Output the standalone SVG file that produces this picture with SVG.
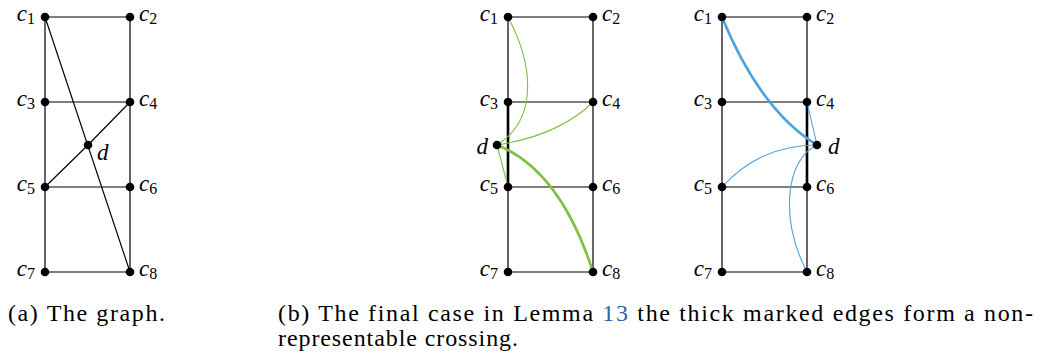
<svg xmlns="http://www.w3.org/2000/svg" width="1041" height="358" viewBox="0 0 1041 358">
<style>
.e{stroke:#000;stroke-width:1.2;fill:none}
.thick{stroke:#000;stroke-width:2.6;fill:none}
.g{stroke:#80c040;stroke-width:1.1;fill:none}
.gt{stroke:#80c040;stroke-width:2.6;fill:none}
.b{stroke:#4aa3df;stroke-width:1.1;fill:none}
.bt{stroke:#4aa3df;stroke-width:2.6;fill:none}
.n{fill:#000}
.lbl{font-size:23px;font-style:italic;fill:#000}
.sub{font-style:normal;font-size:16px}
.cap{font-size:24px;fill:#000}
</style>
<rect width="1041" height="358" fill="#fff"/>
<g id="connectors">
  <path class="e" d="M45,17H130M45,102H130M45,187H130M45,272H130M45,17V272M130,17V272"/>
  <path class="e" d="M45,17L130,272M130,102L88,145L45,187"/>
  <path class="e" d="M508,17H593M508,102H593M508,187H593M508,272H593M508,17V272M593,17V272"/>
  <path class="thick" d="M508,102V187"/>
  <path class="g" d="M508,17C532,62 540,118 497,145"/>
  <path class="g" d="M593,102Q560,135 497,145"/>
  <path class="g" d="M497,145L508,187"/>
  <path class="gt" d="M497,145Q560,170 593,272"/>
  <path class="e" d="M722,17H807M722,102H807M722,187H807M722,272H807M722,17V272M807,17V272"/>
  <path class="thick" d="M807,102V187"/>
  <path class="bt" d="M722,17Q760,110 817,145"/>
  <path class="b" d="M807,102L817,145"/>
  <path class="b" d="M722,187Q760,145 817,145"/>
  <path class="b" d="M807,272C780,220 785,160 817,145"/>
</g>
<g font-family="Liberation Serif, DejaVu Serif, serif">
<g id="a-c1"><circle class="n" cx="45" cy="17" r="4.3"/><text class="lbl" x="35" y="21" text-anchor="end">c<tspan class="sub" dy="3">1</tspan></text></g>
<g id="a-c2"><circle class="n" cx="130" cy="17" r="4.3"/><text class="lbl" x="139" y="21">c<tspan class="sub" dy="3">2</tspan></text></g>
<g id="a-c3"><circle class="n" cx="45" cy="102" r="4.3"/><text class="lbl" x="35" y="106" text-anchor="end">c<tspan class="sub" dy="3">3</tspan></text></g>
<g id="a-c4"><circle class="n" cx="130" cy="102" r="4.3"/><text class="lbl" x="139" y="106">c<tspan class="sub" dy="3">4</tspan></text></g>
<g id="a-c5"><circle class="n" cx="45" cy="187" r="4.3"/><text class="lbl" x="35" y="191" text-anchor="end">c<tspan class="sub" dy="3">5</tspan></text></g>
<g id="a-c6"><circle class="n" cx="130" cy="187" r="4.3"/><text class="lbl" x="139" y="191">c<tspan class="sub" dy="3">6</tspan></text></g>
<g id="a-c7"><circle class="n" cx="45" cy="272" r="4.3"/><text class="lbl" x="35" y="276" text-anchor="end">c<tspan class="sub" dy="3">7</tspan></text></g>
<g id="a-c8"><circle class="n" cx="130" cy="272" r="4.3"/><text class="lbl" x="139" y="276">c<tspan class="sub" dy="3">8</tspan></text></g>
<g id="a-d"><circle class="n" cx="88" cy="145" r="4.3"/><text class="lbl" x="97" y="160">d</text></g>
<g id="b-c1"><circle class="n" cx="508" cy="17" r="4.3"/><text class="lbl" x="498" y="21" text-anchor="end">c<tspan class="sub" dy="3">1</tspan></text></g>
<g id="b-c2"><circle class="n" cx="593" cy="17" r="4.3"/><text class="lbl" x="602" y="21">c<tspan class="sub" dy="3">2</tspan></text></g>
<g id="b-c3"><circle class="n" cx="508" cy="102" r="4.3"/><text class="lbl" x="498" y="106" text-anchor="end">c<tspan class="sub" dy="3">3</tspan></text></g>
<g id="b-c4"><circle class="n" cx="593" cy="102" r="4.3"/><text class="lbl" x="602" y="106">c<tspan class="sub" dy="3">4</tspan></text></g>
<g id="b-c5"><circle class="n" cx="508" cy="187" r="4.3"/><text class="lbl" x="498" y="191" text-anchor="end">c<tspan class="sub" dy="3">5</tspan></text></g>
<g id="b-c6"><circle class="n" cx="593" cy="187" r="4.3"/><text class="lbl" x="602" y="191">c<tspan class="sub" dy="3">6</tspan></text></g>
<g id="b-c7"><circle class="n" cx="508" cy="272" r="4.3"/><text class="lbl" x="498" y="276" text-anchor="end">c<tspan class="sub" dy="3">7</tspan></text></g>
<g id="b-c8"><circle class="n" cx="593" cy="272" r="4.3"/><text class="lbl" x="602" y="276">c<tspan class="sub" dy="3">8</tspan></text></g>
<g id="b-d"><circle class="n" cx="497" cy="145" r="4.3"/><text class="lbl" x="488" y="154" text-anchor="end">d</text></g>
<g id="c-c1"><circle class="n" cx="722" cy="17" r="4.3"/><text class="lbl" x="712" y="21" text-anchor="end">c<tspan class="sub" dy="3">1</tspan></text></g>
<g id="c-c2"><circle class="n" cx="807" cy="17" r="4.3"/><text class="lbl" x="816" y="21">c<tspan class="sub" dy="3">2</tspan></text></g>
<g id="c-c3"><circle class="n" cx="722" cy="102" r="4.3"/><text class="lbl" x="712" y="106" text-anchor="end">c<tspan class="sub" dy="3">3</tspan></text></g>
<g id="c-c4"><circle class="n" cx="807" cy="102" r="4.3"/><text class="lbl" x="816" y="106">c<tspan class="sub" dy="3">4</tspan></text></g>
<g id="c-c5"><circle class="n" cx="722" cy="187" r="4.3"/><text class="lbl" x="712" y="191" text-anchor="end">c<tspan class="sub" dy="3">5</tspan></text></g>
<g id="c-c6"><circle class="n" cx="807" cy="187" r="4.3"/><text class="lbl" x="816" y="191">c<tspan class="sub" dy="3">6</tspan></text></g>
<g id="c-c7"><circle class="n" cx="722" cy="272" r="4.3"/><text class="lbl" x="712" y="276" text-anchor="end">c<tspan class="sub" dy="3">7</tspan></text></g>
<g id="c-c8"><circle class="n" cx="807" cy="272" r="4.3"/><text class="lbl" x="816" y="276">c<tspan class="sub" dy="3">8</tspan></text></g>
<g id="c-d"><circle class="n" cx="817" cy="145" r="4.3"/><text class="lbl" x="828" y="154">d</text></g>
<g id="captions">
<text class="cap" x="8" y="321" textLength="157" lengthAdjust="spacing">(a) The graph.</text>
<text class="cap" x="278" y="321" textLength="755" lengthAdjust="spacing">(b) The final case in Lemma <tspan fill="#2f64a8">13</tspan> the thick marked edges form a non-</text>
<text class="cap" x="278" y="346" textLength="240" lengthAdjust="spacing">representable crossing.</text>
</g>
</g>
</svg>
